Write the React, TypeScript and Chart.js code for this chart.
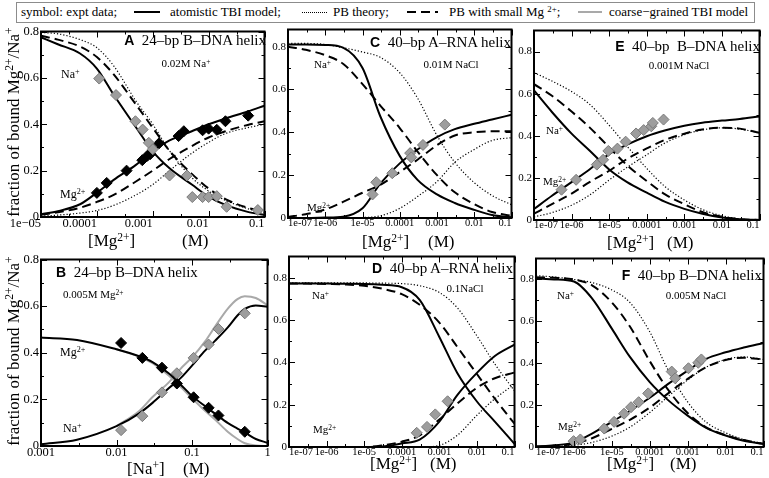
import React, { useEffect, useRef } from 'react';
import { Chart, registerables } from 'chart.js';

Chart.register(...registerables);

const SERIF = '"Liberation Serif", "Times New Roman", Times, serif';
const SANS = '"Liberation Sans", Arial, Helvetica, sans-serif';
const W = 769;
const H = 478;

// ---------- tick labels ----------
const X_TICKS_A = [1e-5, 1e-4, 1e-3, 1e-2, 1e-1];
const X_LABELS_A = ['1e\u221205', '0.0001', '0.001', '0.01', '0.1'];
const X_TICKS_B = [1e-3, 1e-2, 1e-1, 1];
const X_LABELS_B = ['0.001', '0.01', '0.1', '1'];
const X_TICKS_CF = [1e-7, 1e-6, 1e-5, 1e-4, 1e-3, 1e-2, 1e-1];
const X_LABELS_CF = ['1e-07', '1e-06', '1e-05', '0.0001', '0.001', '0.01', '0.1'];
const Y_TICKS = [0, 0.2, 0.4, 0.6, 0.8];
const Y_LABELS = ['0', '0.2', '0.4', '0.6', '0.8'];
const Y_MINOR = [0.1, 0.3, 0.5, 0.7];

// ---------- panel A : 24-bp B-DNA, 0.02M Na+ ----------
const A_GRID = [1e-5, 2e-5, 5e-5, 1e-4, 2e-4, 5e-4, 1e-3, 2e-3, 5e-3, 1e-2, 2e-2, 5e-2, 1e-1];
const A_NA_TBI = [0.775, 0.745, 0.705, 0.64, 0.527, 0.387, 0.283, 0.21, 0.14, 0.088, 0.052, 0.022, 0.009];
const A_NA_PBS = [0.782, 0.765, 0.735, 0.69, 0.615, 0.485, 0.385, 0.285, 0.186, 0.123, 0.077, 0.04, 0.024];
const A_NA_PB = [0.796, 0.79, 0.765, 0.73, 0.652, 0.5, 0.4, 0.285, 0.17, 0.112, 0.072, 0.036, 0.017];
const A_MG_TBI = [0.012, 0.025, 0.055, 0.105, 0.16, 0.225, 0.285, 0.33, 0.37, 0.4, 0.425, 0.455, 0.48];
const A_MG_PBS = [0.01, 0.02, 0.04, 0.065, 0.095, 0.153, 0.2, 0.25, 0.306, 0.343, 0.37, 0.397, 0.413];
const A_MG_PB = [0.004, 0.008, 0.017, 0.028, 0.05, 0.095, 0.14, 0.2, 0.275, 0.322, 0.36, 0.385, 0.4];
const A_MG_EXP_X = [1e-4, 1.5e-4, 3.4e-4, 6.5e-4, 8e-4, 9e-4, 1.3e-3, 2.9e-3, 3.6e-3, 7.8e-3, 1e-2, 1.4e-2, 2e-2, 5.1e-2];
const A_MG_EXP_Y = [0.104, 0.147, 0.2, 0.245, 0.264, 0.271, 0.318, 0.349, 0.37, 0.374, 0.381, 0.376, 0.413, 0.437];
const A_NA_EXP_X = [1.1e-4, 2.2e-4, 4.9e-4, 6.6e-4, 8.5e-4, 1e-3, 2e-3, 4.1e-3, 5.1e-3, 7.8e-3, 1e-2, 1.4e-2, 2.1e-2, 7.6e-2];
const A_NA_EXP_Y = [0.597, 0.526, 0.413, 0.377, 0.32, 0.292, 0.179, 0.179, 0.086, 0.086, 0.086, 0.09, 0.044, 0.03];

// ---------- panel B : 24-bp B-DNA, 0.005M Mg2+ ----------
const B_GRID = [0.001, 0.003, 0.01, 0.02, 0.03, 0.05, 0.07, 0.1, 0.15, 0.2, 0.3, 0.4, 0.5, 0.7, 1];
const B_MG_TBI = [0.465, 0.455, 0.415, 0.385, 0.36, 0.31, 0.265, 0.215, 0.17, 0.14, 0.098, 0.075, 0.058, 0.03, 0.014];
const B_NA_TBI = [0.008, 0.027, 0.085, 0.14, 0.185, 0.25, 0.29, 0.345, 0.41, 0.45, 0.51, 0.56, 0.588, 0.603, 0.597];
const B_CG_GRID = [0.01, 0.02, 0.03, 0.05, 0.07, 0.1, 0.15, 0.2, 0.3, 0.4, 0.5, 0.7, 1];
const B_MG_CG = [0.415, 0.383, 0.355, 0.3, 0.255, 0.205, 0.15, 0.115, 0.06, 0.03, 0.012, 0.002, 0];
const B_NA_CG = [0.085, 0.15, 0.21, 0.275, 0.33, 0.38, 0.45, 0.51, 0.59, 0.63, 0.642, 0.635, 0.604];
const B_EXP_X = [0.0115, 0.022, 0.04, 0.063, 0.105, 0.166, 0.224, 0.5];
const B_MG_EXP = [0.442, 0.378, 0.336, 0.268, 0.209, 0.164, 0.131, 0.061];
const B_NA_EXP = [0.068, 0.128, 0.23, 0.312, 0.378, 0.435, 0.502, 0.569];

// ---------- panels C-F share a Mg2+ grid ----------
const CF_GRID = [1e-7, 3e-7, 1e-6, 3e-6, 1e-5, 3e-5, 1e-4, 3e-4, 1e-3, 3e-3, 1e-2, 3e-2, 1e-1];

// C : 40-bp A-RNA, 0.01M NaCl
const C_NA_TBI = [0.81, 0.81, 0.808, 0.795, 0.7, 0.475, 0.29, 0.178, 0.11, 0.07, 0.038, 0.014, 0.003];
const C_NA_PBS = [0.8, 0.785, 0.76, 0.72, 0.625, 0.525, 0.42, 0.31, 0.2, 0.12, 0.065, 0.028, 0.01];
const C_NA_PB = [0.815, 0.815, 0.81, 0.795, 0.775, 0.75, 0.678, 0.56, 0.385, 0.26, 0.165, 0.105, 0.062];
const C_MG_TBI = [0, 0, 0.002, 0.006, 0.045, 0.16, 0.255, 0.32, 0.378, 0.415, 0.44, 0.46, 0.482];
const C_MG_PBS = [0.005, 0.018, 0.04, 0.075, 0.118, 0.155, 0.215, 0.272, 0.34, 0.385, 0.4, 0.405, 0.405];
const C_MG_PB = [0, 0, 0, 0, 0.002, 0.01, 0.045, 0.1, 0.17, 0.26, 0.32, 0.362, 0.375];
const C_EXP_X = [1.86e-5, 2.34e-5, 6.3e-5, 1.9e-4, 2.04e-4, 4.2e-4, 1.62e-3];
const C_EXP_Y = [0.11, 0.167, 0.209, 0.303, 0.283, 0.341, 0.436];

// D : 40-bp A-RNA, 0.1 NaCl
const D_NA_TBI = [0.772, 0.772, 0.772, 0.771, 0.77, 0.766, 0.755, 0.695, 0.52, 0.35, 0.215, 0.12, 0.015];
const D_NA_PBS = [0.772, 0.772, 0.77, 0.768, 0.762, 0.748, 0.722, 0.672, 0.588, 0.473, 0.345, 0.228, 0.11];
const D_NA_PB = [0.775, 0.775, 0.775, 0.775, 0.775, 0.774, 0.772, 0.762, 0.73, 0.658, 0.525, 0.392, 0.265];
const D_MG_TBI = [0, 0, 0, 0, 0, 0.002, 0.017, 0.035, 0.12, 0.245, 0.35, 0.43, 0.484];
const D_MG_PBS = [0, 0, 0, 0, 0, 0.008, 0.025, 0.055, 0.13, 0.205, 0.28, 0.325, 0.352];
const D_MG_PB = [0, 0, 0, 0, 0, 0, 0, 0, 0.008, 0.055, 0.15, 0.228, 0.297];
const D_EXP_X = [2.5e-4, 4.7e-4, 7.8e-4, 1.66e-3];
const D_EXP_Y = [0.067, 0.095, 0.154, 0.216];

// E : 40-bp B-DNA, 0.001M NaCl
const E_NA_TBI = [0.615, 0.513, 0.41, 0.33, 0.24, 0.18, 0.13, 0.087, 0.053, 0.03, 0.012, 0.003, 0];
const E_NA_PBS = [0.645, 0.59, 0.515, 0.44, 0.345, 0.26, 0.185, 0.123, 0.075, 0.038, 0.015, 0.004, 0];
const E_NA_PB = [0.7, 0.66, 0.61, 0.55, 0.45, 0.35, 0.245, 0.16, 0.095, 0.05, 0.02, 0.005, 0];
const E_MG_TBI = [0.052, 0.115, 0.18, 0.24, 0.313, 0.358, 0.398, 0.425, 0.448, 0.462, 0.472, 0.48, 0.492];
const E_MG_PBS = [0.03, 0.075, 0.125, 0.18, 0.234, 0.29, 0.34, 0.38, 0.41, 0.43, 0.438, 0.434, 0.414];
const E_MG_PB = [0.015, 0.035, 0.07, 0.118, 0.19, 0.25, 0.31, 0.365, 0.405, 0.428, 0.438, 0.432, 0.414];
const E_EXP_X = [5.4e-7, 1.32e-6, 4.7e-6, 6.9e-6, 9.5e-6, 1.66e-5, 2.75e-5, 5.2e-5, 8.3e-5, 1.32e-4, 1.45e-4, 2.8e-4];
const E_EXP_Y = [0.144, 0.191, 0.263, 0.286, 0.328, 0.339, 0.372, 0.411, 0.427, 0.445, 0.461, 0.477];

// F : 40-bp B-DNA, 0.005M NaCl
const F_NA_TBI = [0.805, 0.8, 0.79, 0.71, 0.565, 0.43, 0.31, 0.225, 0.15, 0.093, 0.055, 0.03, 0.015];
const F_NA_PBS = [0.81, 0.808, 0.8, 0.772, 0.69, 0.575, 0.41, 0.275, 0.162, 0.095, 0.057, 0.033, 0.015];
const F_NA_PB = [0.818, 0.812, 0.8, 0.785, 0.75, 0.69, 0.55, 0.37, 0.215, 0.12, 0.068, 0.036, 0.016];
const F_MG_TBI = [0.002, 0.008, 0.022, 0.064, 0.12, 0.172, 0.235, 0.3, 0.365, 0.42, 0.452, 0.475, 0.497];
const F_MG_PBS = [0.002, 0.006, 0.015, 0.042, 0.087, 0.13, 0.188, 0.255, 0.325, 0.38, 0.415, 0.426, 0.418];
const F_MG_PB = [0.001, 0.003, 0.008, 0.022, 0.052, 0.095, 0.165, 0.24, 0.32, 0.38, 0.418, 0.43, 0.418];
const F_EXP_X = [9.8e-7, 1.48e-6, 6.3e-6, 1.15e-5, 2.1e-5, 3.2e-5, 5.1e-5, 9.1e-5, 3.8e-4, 4.7e-4, 1.05e-3, 1.9e-3, 2.3e-3];
const F_EXP_Y = [0.028, 0.036, 0.088, 0.12, 0.159, 0.19, 0.214, 0.256, 0.36, 0.328, 0.376, 0.402, 0.418];

// ---------- dataset helpers ----------
type Style = 'solid' | 'dash' | 'dot' | 'gray';

function curve(xs: number[], ys: number[], style: Style) {
  const ds: any = {
    data: xs.map((x, i) => ({ x, y: ys[i] })),
    showLine: true,
    pointRadius: 0,
    pointHoverRadius: 0,
    fill: false,
    borderColor: '#000',
    borderWidth: 2,
    cubicInterpolationMode: 'monotone',
    order: 2,
  };
  if (style === 'dash') ds.borderDash = [9, 5];
  if (style === 'dot') {
    ds.borderDash = [1.2, 2];
    ds.borderWidth = 1.2;
  }
  if (style === 'gray') {
    ds.borderColor = '#a9a9a9';
    ds.borderWidth = 2;
    ds.order = 3;
  }
  return ds;
}

function diamonds(xs: number[], ys: number[], black: boolean) {
  return {
    data: xs.map((x, i) => ({ x, y: ys[i] })),
    showLine: false,
    pointStyle: 'rectRot',
    pointRadius: 5.5,
    pointHoverRadius: 5.5,
    backgroundColor: black ? '#000' : '#9d9d9d',
    borderColor: black ? '#000' : '#7a7a7a',
    borderWidth: 1,
    order: 1,
  };
}

function six(grid: number[], naT: number[], naS: number[], naP: number[], mgT: number[], mgS: number[], mgP: number[]) {
  return [
    curve(grid, naT, 'solid'),
    curve(grid, naS, 'dash'),
    curve(grid, naP, 'dot'),
    curve(grid, mgT, 'solid'),
    curve(grid, mgS, 'dash'),
    curve(grid, mgP, 'dot'),
  ];
}

const PANELS: any[] = [
  {
    key: 'A', box: { l: 41, t: 29, r: 267, b: 217 }, xMin: 1e-5, xMax: 0.1,
    xTicks: X_TICKS_A, xLabels: X_LABELS_A, align: 'end', yMax: 0.8, font: 12.5, yFont: 12.5,
    datasets: [
      ...six(A_GRID, A_NA_TBI, A_NA_PBS, A_NA_PB, A_MG_TBI, A_MG_PBS, A_MG_PB),
      diamonds(A_NA_EXP_X, A_NA_EXP_Y, false),
      diamonds(A_MG_EXP_X, A_MG_EXP_Y, true),
    ],
  },
  {
    key: 'B', box: { l: 41, t: 257, r: 270, b: 446 }, xMin: 1e-3, xMax: 1,
    xTicks: X_TICKS_B, xLabels: X_LABELS_B, align: 'center', yMax: 0.8, font: 12.5, yFont: 12.5,
    datasets: [
      curve(B_CG_GRID, B_MG_CG, 'gray'),
      curve(B_CG_GRID, B_NA_CG, 'gray'),
      curve(B_GRID, B_MG_TBI, 'solid'),
      curve(B_GRID, B_NA_TBI, 'solid'),
      diamonds(B_EXP_X, B_NA_EXP, false),
      diamonds(B_EXP_X, B_MG_EXP, true),
    ],
  },
  {
    key: 'C', box: { l: 288, t: 27, r: 514, b: 218 }, xMin: 1e-7, xMax: 0.1,
    xTicks: X_TICKS_CF, xLabels: X_LABELS_CF, align: 'inner', yMax: 0.88, font: 10.5, yFont: 11,
    datasets: [
      ...six(CF_GRID, C_NA_TBI, C_NA_PBS, C_NA_PB, C_MG_TBI, C_MG_PBS, C_MG_PB),
      diamonds(C_EXP_X, C_EXP_Y, false),
    ],
  },
  {
    key: 'D', box: { l: 289, t: 254, r: 517, b: 447 }, xMin: 1e-7, xMax: 0.1,
    xTicks: X_TICKS_CF, xLabels: X_LABELS_CF, align: 'inner', yMax: 0.9, font: 10.5, yFont: 11,
    datasets: [
      ...six(CF_GRID, D_NA_TBI, D_NA_PBS, D_NA_PB, D_MG_TBI, D_MG_PBS, D_MG_PB),
      diamonds(D_EXP_X, D_EXP_Y, false),
    ],
  },
  {
    key: 'E', box: { l: 534, t: 28, r: 762, b: 220 }, xMin: 1e-7, xMax: 0.1,
    xTicks: X_TICKS_CF, xLabels: X_LABELS_CF, align: 'inner', yMax: 0.9, font: 10.5, yFont: 11,
    datasets: [
      ...six(CF_GRID, E_NA_TBI, E_NA_PBS, E_NA_PB, E_MG_TBI, E_MG_PBS, E_MG_PB),
      diamonds(E_EXP_X, E_EXP_Y, false),
    ],
  },
  {
    key: 'F', box: { l: 536, t: 256, r: 766, b: 447 }, xMin: 1e-7, xMax: 0.1,
    xTicks: X_TICKS_CF, xLabels: X_LABELS_CF, align: 'inner', yMax: 0.9, font: 10.5, yFont: 11,
    datasets: [
      ...six(CF_GRID, F_NA_TBI, F_NA_PBS, F_NA_PB, F_MG_TBI, F_MG_PBS, F_MG_PB),
      diamonds(F_EXP_X, F_EXP_Y, false),
    ],
  },
];

const PAD_L = 40;
const PAD_T = 4;
const PAD_R = 4;
const PAD_B = 20;

function makeFrame(xTicks: number[], yMax: number) {
  return {
    id: 'frame',
    afterDatasetsDraw(chart: any) {
      const { ctx, chartArea: a, scales } = chart;
      const xs = scales.x;
      const ys = scales.y;
      ctx.save();
      ctx.strokeStyle = '#000';
      ctx.lineWidth = 1;
      const vt = (v: number, len: number) => {
        const p = Math.round(xs.getPixelForValue(v)) + 0.5;
        ctx.beginPath();
        ctx.moveTo(p, a.bottom);
        ctx.lineTo(p, a.bottom - len);
        ctx.moveTo(p, a.top);
        ctx.lineTo(p, a.top + len);
        ctx.stroke();
      };
      const ht = (v: number, len: number) => {
        const p = Math.round(ys.getPixelForValue(v)) + 0.5;
        ctx.beginPath();
        ctx.moveTo(a.left, p);
        ctx.lineTo(a.left + len, p);
        ctx.moveTo(a.right, p);
        ctx.lineTo(a.right - len, p);
        ctx.stroke();
      };
      xTicks.forEach((v, i) => {
        vt(v, 6);
        if (i < xTicks.length - 1) vt(Math.sqrt(v * xTicks[i + 1]), 3);
      });
      Y_TICKS.forEach((v) => ht(v, 6));
      Y_MINOR.forEach((v) => ht(v, 3));
      if (yMax > 0.9 + 1e-6) ht(0.9, 3);
      ctx.lineWidth = 2;
      ctx.strokeRect(a.left, a.top, a.right - a.left, a.bottom - a.top);
      ctx.restore();
    },
  };
}

function Panel({ p }: { p: any }) {
  const ref = useRef<HTMLCanvasElement>(null);
  const w = p.box.r - p.box.l + PAD_L + PAD_R;
  const h = p.box.b - p.box.t + PAD_T + PAD_B;
  useEffect(() => {
    const xFont = { family: SERIF, size: p.font, lineHeight: 1 };
    const yFont = { family: SERIF, size: p.yFont, lineHeight: 1 };
    const chart = new Chart(ref.current as HTMLCanvasElement, {
      type: 'scatter',
      data: { datasets: p.datasets },
      options: {
        animation: false,
        responsive: false,
        maintainAspectRatio: false,
        events: [],
        layout: { padding: { left: 0, top: PAD_T, right: PAD_R, bottom: 0 } },
        plugins: { legend: { display: false }, tooltip: { enabled: false } },
        scales: {
          x: {
            type: 'logarithmic',
            min: p.xMin,
            max: p.xMax,
            grid: { display: false, drawTicks: false, tickLength: 0 },
            border: { display: false },
            afterBuildTicks: (s: any) => {
              s.ticks = p.xTicks.map((v: number) => ({ value: v }));
            },
            afterFit: (s: any) => {
              s.height = PAD_B;
              s.paddingLeft = 0;
              s.paddingRight = 0;
            },
            ticks: {
              autoSkip: false,
              maxRotation: 0,
              minRotation: 0,
              align: p.align,
              padding: 0,
              color: '#000',
              font: xFont,
              callback: (_v: any, i: number) => p.xLabels[i],
            },
          },
          y: {
            type: 'linear',
            min: 0,
            max: p.yMax,
            grid: { display: false, drawTicks: false, tickLength: 0 },
            border: { display: false },
            afterBuildTicks: (s: any) => {
              s.ticks = Y_TICKS.map((v) => ({ value: v }));
            },
            afterFit: (s: any) => {
              s.width = PAD_L;
              s.paddingTop = 0;
              s.paddingBottom = 0;
            },
            ticks: {
              padding: 2,
              color: '#000',
              font: yFont,
              callback: (_v: any, i: number) => Y_LABELS[i],
            },
          },
        },
      } as any,
      plugins: [makeFrame(p.xTicks, p.yMax)],
    } as any);
    return () => chart.destroy();
  }, []);
  return (
    <canvas
      ref={ref}
      width={w}
      height={h}
      style={{ position: 'absolute', left: p.box.l - PAD_L, top: p.box.t - PAD_T, width: w, height: h }}
    />
  );
}

const Sup = ({ children }: any) => (
  <span style={{ fontSize: '0.68em', position: 'relative', top: '-0.48em' }}>{children}</span>
);

function Txt({ x, y, size, anchor = 'start', children, font = SERIF }: any) {
  const st: any = {
    position: 'absolute',
    top: y - size * 0.52,
    fontSize: size,
    lineHeight: `${size}px`,
    whiteSpace: 'nowrap',
    fontFamily: font,
    color: '#000',
  };
  if (anchor === 'start') st.left = x;
  else if (anchor === 'end') st.right = W - x;
  else {
    st.left = x;
    st.transform = 'translateX(-50%)';
  }
  return <div style={st}>{children}</div>;
}

function Title({ x, y, anchor, letter, text }: any) {
  return (
    <Txt x={x} y={y} size={15} anchor={anchor}>
      <span style={{ fontFamily: SANS, fontWeight: 'bold', fontSize: 14 }}>{letter}</span>
      {'\u00a0 '}
      {text}
    </Txt>
  );
}

function Legend() {
  const s = 13;
  const cy = 12;
  return (
    <>
      <div
        style={{
          position: 'absolute', left: 16, top: 2, width: 739, height: 21,
          border: '1px solid #8c8c8c', boxSizing: 'border-box',
        }}
      />
      <Txt x={21} y={cy} size={s}>symbol: expt data;</Txt>
      <div style={{ position: 'absolute', left: 134, top: cy - 1, width: 26, borderTop: '2px solid #000' }} />
      <Txt x={170} y={cy} size={s}>atomistic TBI model;</Txt>
      <div style={{ position: 'absolute', left: 302, top: cy, width: 25, borderTop: '1px dotted #000' }} />
      <Txt x={333} y={cy} size={s}>PB theory;</Txt>
      <div style={{ position: 'absolute', left: 407, top: cy - 1, width: 9, borderTop: '2px solid #000' }} />
      <div style={{ position: 'absolute', left: 421, top: cy - 1, width: 9, borderTop: '2px solid #000' }} />
      <div style={{ position: 'absolute', left: 435, top: cy - 1, width: 3, borderTop: '2px solid #000' }} />
      <Txt x={449} y={cy} size={s}>PB with small Mg <Sup>2+</Sup>;</Txt>
      <div style={{ position: 'absolute', left: 578, top: cy - 1, width: 24, borderTop: '2px solid #a9a9a9' }} />
      <Txt x={609} y={cy} size={s}>coarse{'\u2212'}grained TBI model</Txt>
    </>
  );
}

function YTitle({ cy }: { cy: number }) {
  return (
    <div
      style={{
        position: 'absolute', left: 14, top: cy,
        transform: 'translate(-50%, -50%) rotate(-90deg)',
        fontSize: 17, lineHeight: '17px', whiteSpace: 'nowrap', fontFamily: SERIF,
      }}
    >
      fraction of bound Mg<Sup>2+</Sup>/Na<Sup>+</Sup>
    </div>
  );
}

function XTitle({ x, xm, y, ion }: any) {
  return (
    <>
      <Txt x={x} y={y} size={17}>
        [{ion === 'Na' ? <>Na<Sup>+</Sup></> : <>Mg<Sup>2+</Sup></>}]
      </Txt>
      <Txt x={xm} y={y} size={17}>(M)</Txt>
    </>
  );
}

const NA = <>Na<Sup>+</Sup></>;
const MG = <>Mg<Sup>2+</Sup></>;

export default function App() {
  return (
    <div
      style={{
        position: 'absolute', left: 0, top: 0, width: W, height: H,
        background: '#fff', overflow: 'hidden', fontFamily: SERIF,
      }}
    >
      <Legend />
      {PANELS.map((p) => (
        <Panel key={p.key} p={p} />
      ))}

      {/* panel A */}
      <Title x={266} y={41} anchor="end" letter="A" text={'24\u2013bp B\u2013DNA helix'} />
      <Txt x={186} y={64} size={11} anchor="middle">0.02M Na<Sup>+</Sup></Txt>
      <Txt x={61} y={74} size={12}>{NA}</Txt>
      <Txt x={60} y={194} size={12}>{MG}</Txt>

      {/* panel C */}
      <Title x={511} y={43} anchor="end" letter="C" text={'40\u2013bp A\u2013RNA helix'} />
      <Txt x={451} y={65} size={11} anchor="middle">0.01M NaCl</Txt>
      <Txt x={314} y={65} size={11}>{NA}</Txt>
      <Txt x={307} y={208} size={11}>{MG}</Txt>

      {/* panel E */}
      <Title x={760} y={47} anchor="end" letter="E" text={'40\u2013bp\u00a0 B\u2013DNA helix'} />
      <Txt x={679} y={66} size={11} anchor="middle">0.001M NaCl</Txt>
      <Txt x={546} y={131} size={11}>{NA}</Txt>
      <Txt x={543} y={182} size={11}>{MG}</Txt>

      {/* panel B */}
      <Title x={56} y={273} anchor="start" letter="B" text={'24\u2013bp B\u2013DNA helix'} />
      <Txt x={63} y={295} size={11}>0.005M Mg<Sup>2+</Sup></Txt>
      <Txt x={60} y={352} size={12}>{MG}</Txt>
      <Txt x={63} y={428} size={12}>{NA}</Txt>

      {/* panel D */}
      <Title x={513} y={269} anchor="end" letter="D" text={'40\u2013bp A\u2013RNA helix'} />
      <Txt x={465} y={289} size={11} anchor="middle">0.1NaCl</Txt>
      <Txt x={312} y={296} size={11}>{NA}</Txt>
      <Txt x={313} y={430} size={11}>{MG}</Txt>

      {/* panel F */}
      <Title x={762} y={276} anchor="end" letter="F" text={'40\u2013bp B\u2013DNA helix'} />
      <Txt x={696} y={296} size={11} anchor="middle">0.005M NaCl</Txt>
      <Txt x={557} y={296} size={11}>{NA}</Txt>
      <Txt x={558} y={427} size={11}>{MG}</Txt>

      {/* axis titles */}
      <YTitle cy={122} />
      <YTitle cy={351} />
      <XTitle x={88} xm={182} y={241} ion="Mg" />
      <XTitle x={362} xm={428} y={242} ion="Mg" />
      <XTitle x={607} xm={667} y={243} ion="Mg" />
      <XTitle x={127} xm={183} y={469} ion="Na" />
      <XTitle x={370} xm={430} y={464} ion="Mg" />
      <XTitle x={607} xm={670} y={464} ion="Mg" />
    </div>
  );
}
